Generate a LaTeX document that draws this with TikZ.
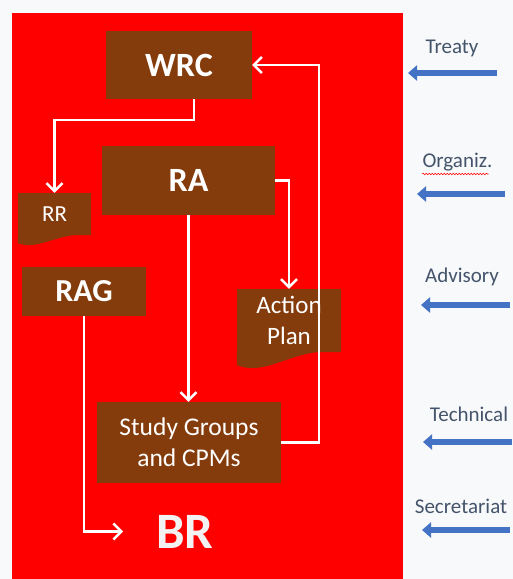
\documentclass[tikz,border=0pt]{standalone}
\usepackage{fontspec}
\setmainfont{Carlito}
\usetikzlibrary{arrows.meta,calc,decorations.pathmorphing}
\definecolor{itured}{HTML}{FF0000}
\definecolor{itubrown}{HTML}{843C0C}
\definecolor{itublue}{HTML}{4472C4}
\definecolor{itugray}{HTML}{44546A}
\definecolor{itupaper}{HTML}{F8F9FB}
\tikzset{
  box/.style={fill=itubrown, text=white, inner sep=0pt, align=center},
  flow/.style={draw=white, line width=2.5pt, -{Straight Barb[length=8pt,width=16pt]}},
  level/.style={text=itugray, inner sep=0pt, anchor=base, font=\fontsize{21}{25}\selectfont},
  feed/.style={draw=itublue, line width=6pt, -{Triangle[length=9pt,width=15pt]}},
}
% wavy lower edge of a document box
\newcommand\docwave[2]{\fill[itubrown] (#1.south west) -- ++(0,0.8*#2) .. controls ($(#1.south west)!0.3!(#1.south east)+(0,1.6*#2)$) and ($(#1.south west)!0.55!(#1.south east)+(0,-0.4*#2)$) .. (#1.south east) -- cycle;}
\begin{document}
\begin{tikzpicture}[x=1pt,y=-1pt]
  \useasboundingbox (0,0) rectangle (513,579);
  \fill[itupaper] (0,0) rectangle (513,579);
  \fill[itured] (12,13) rectangle (403,579);

  %%% boxes
  \node[box, minimum width=146pt, minimum height=68pt, font=\bfseries\fontsize{34}{40}\selectfont] (wrc) at (179,65) {WRC};
  \node[box, minimum width=173pt, minimum height=69pt, font=\bfseries\fontsize{34}{40}\selectfont] (ra) at (188.5,180.5) {RA};
  \node[box, minimum width=73pt, minimum height=42pt, font=\fontsize{23}{28}\selectfont] (rr) at (54.5,214) {RR};
  \docwave{rr}{10}
  \node[box, minimum width=124pt, minimum height=49pt, font=\bfseries\fontsize{32}{38}\selectfont] (rag) at (84,291.5) {RAG};
  \node[box, minimum width=104pt, minimum height=63pt, font=\fontsize{25}{31}\selectfont] (ap) at (289,320.5) {Action\\Plan};
  \docwave{ap}{16}
  \node[box, minimum width=184pt, minimum height=81pt, font=\fontsize{25.5}{31}\selectfont] (sg) at (189,442.5) {Study Groups\\and CPMs};
  \node[text=white!95!black, inner sep=0pt, font=\bfseries\fontsize{51}{60}\selectfont] (br) at (185,531.5) {BR};

  %%% white flows
  \draw[flow] ([xshift=15pt]wrc.south) -- ++(0,21) -| (rr.north);
  \draw[flow] (ra.south) -- (ra.south |- sg.north);
  \draw[flow] (ra.east) -| (ap.north);
  \draw[flow] (sg.east) -- ++(38,0) |- (wrc.east);
  \draw[flow] (rag.south) |- ([xshift=-33pt]br.west);

  %%% levels on the right
  \foreach \name/\txt/\lx/\ly/\ay/\ax/\bx in {
      treaty/Treaty/452/53/73/497/408,
      organiz/Organiz./457.5/167/194/505/417,
      advisory/Advisory/462/282/305/510/421,
      technical/Technical/469/421/442/512/423,
      secretariat/Secretariat/461/513/530/510/422}{
    \node[level] (\name) at (\lx,\ly) {\txt};
    \coordinate (\name-from) at (\ax,\ay);
    \coordinate (\name-to) at (\bx,\ay);
    \draw[feed] (\name-from) -- (\name-to);
  }
  \draw[red, line width=0.6pt, decorate, decoration={snake, amplitude=0.8pt, segment length=3pt}]
    ([yshift=-7pt]organiz.base west) -- ([yshift=-7pt,xshift=-4pt]organiz.base east);
\end{tikzpicture}
\end{document}
